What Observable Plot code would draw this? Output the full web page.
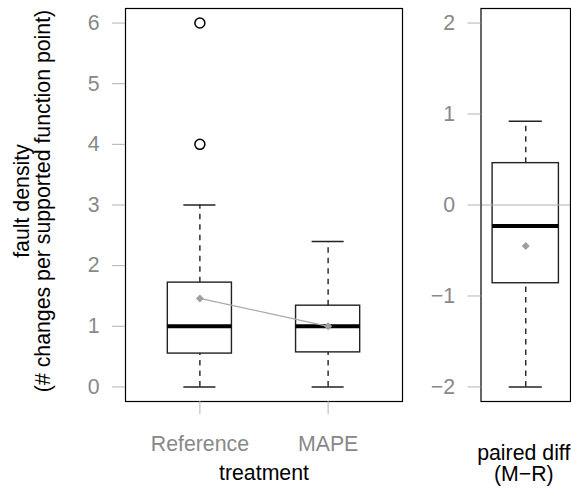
<!DOCTYPE html>
<html><head><meta charset="utf-8">
<script src="https://cdn.jsdelivr.net/npm/d3@7"></script>
<script src="https://cdn.jsdelivr.net/npm/@observablehq/plot@0.6"></script>
<style>
body{margin:0;background:#fff}
#chart{position:relative;width:571px;height:497px;background:#fff}
#chart svg{position:absolute;top:0}
</style>
</head><body><div id="chart"></div>
<script>
// ---- left panel data ----
const categories = ["Reference", "MAPE"];
const lowerWhisker = [0, 0];
const lowerQuartile = [0.55, 0.57];
const medianValue = [1.0, 1.0];
const upperQuartile = [1.72, 1.34];
const upperWhisker = [3.0, 2.4];
const meanValue = [1.46, 1.0];
const outlierCategory = ["Reference", "Reference"];
const outlierValue = [4, 6];
const leftTicks = [0, 1, 2, 3, 4, 5, 6];
const leftYTitle = "fault density\n(# changes per supported function point)";
const leftXTitle = "treatment";

// ---- right panel data ----
const diffCategories = ["paired diff\n(M−R)"];
const diffLowerWhisker = [-2.0];
const diffLowerQuartile = [-0.86];
const diffMedian = [-0.23];
const diffUpperQuartile = [0.46];
const diffUpperWhisker = [0.92];
const diffMean = [-0.45];
const rightTicks = [-2, -1, 0, 1, 2];

const FONT = "'Liberation Sans', Arial, Helvetica, sans-serif";
const TICK_GRAY = "#b3b3b3";
const LABEL_GRAY = "#888888";
const FS = 21.3;
const intFormat = d3.format("d");

function rowsOf(cats, lo, q1, med, q3, hi, mean) {
  return cats.map((c, i) => ({pos: i + 1, cat: c, lo: lo[i], q1: q1[i], med: med[i], q3: q3[i], hi: hi[i], mean: mean[i]}));
}

function boxMarks(rows, half, cap) {
  return [
    Plot.ruleX(rows, {x: "pos", y1: "q3", y2: "hi", stroke: "#222", strokeWidth: 1.4, strokeDasharray: "5.5,5"}),
    Plot.ruleX(rows, {x: "pos", y1: "lo", y2: "q1", stroke: "#222", strokeWidth: 1.4, strokeDasharray: "5.5,5"}),
    Plot.ruleY(rows, {y: "hi", x1: d => d.pos - cap, x2: d => d.pos + cap, stroke: "#222", strokeWidth: 1.5}),
    Plot.ruleY(rows, {y: "lo", x1: d => d.pos - cap, x2: d => d.pos + cap, stroke: "#222", strokeWidth: 1.5}),
    Plot.rect(rows, {x1: d => d.pos - half, x2: d => d.pos + half, y1: "q1", y2: "q3", fill: "none", stroke: "#222", strokeWidth: 1.4}),
    Plot.ruleY(rows, {y: "med", x1: d => d.pos - half, x2: d => d.pos + half, stroke: "#000", strokeWidth: 4})
  ];
}

const leftRows = rowsOf(categories, lowerWhisker, lowerQuartile, medianValue, upperQuartile, upperWhisker, meanValue);
const outliers = outlierValue.map((v, i) => ({pos: categories.indexOf(outlierCategory[i]) + 1, value: v}));

const left = Plot.plot({
  width: 410, height: 497,
  marginLeft: 125, marginRight: 8, marginTop: 8, marginBottom: 96,
  style: {fontFamily: FONT, fontSize: FS + "px", background: "transparent", overflow: "visible"},
  x: {type: "linear", domain: [0.42, 2.58], axis: null},
  y: {domain: [-0.24, 6.24], axis: null},
  marks: [
    ...boxMarks(leftRows, 0.25, 0.125),
    Plot.dot(outliers, {x: "pos", y: "value", r: 5, stroke: "#000", strokeWidth: 1.5, fill: "none"}),
    Plot.line(leftRows, {x: "pos", y: "mean", stroke: "#aaaaaa", strokeWidth: 1.3}),
    Plot.dot(leftRows, {x: "pos", y: "mean", symbol: "diamond2", r: 3.6, fill: "#a0a0a0", stroke: "none"}),
    Plot.frame({stroke: "#000", strokeWidth: 1.2}),
    Plot.axisY({ticks: leftTicks, tickFormat: intFormat, tickSize: 13, tickPadding: 13, fontSize: FS, stroke: TICK_GRAY, fill: LABEL_GRAY, label: null}),
    Plot.axisX({ticks: leftRows.map(d => d.pos), tickFormat: d => categories[d - 1], tickSize: 13, tickPadding: 21, fontSize: FS, stroke: TICK_GRAY, fill: LABEL_GRAY, label: null}),
    Plot.text([leftYTitle], {text: d => d, frameAnchor: "left", textAnchor: "middle", rotate: -90, dx: -93, dy: -4, fontSize: FS, lineHeight: 1, fill: "#000"}),
    Plot.text([leftXTitle], {text: d => d, frameAnchor: "bottom", textAnchor: "middle", lineAnchor: "bottom", dy: 78, fontSize: FS, fill: "#000"})
  ]
});

const rightRows = rowsOf(diffCategories, diffLowerWhisker, diffLowerQuartile, diffMedian, diffUpperQuartile, diffUpperWhisker, diffMean);

const right = Plot.plot({
  width: 161, height: 497,
  marginLeft: 70.5, marginRight: 1, marginTop: 8, marginBottom: 96,
  style: {fontFamily: FONT, fontSize: FS + "px", background: "transparent", overflow: "visible"},
  x: {type: "linear", domain: [0.46, 1.54], axis: null},
  y: {domain: [-2.16, 2.16], axis: null},
  marks: [
    ...boxMarks(rightRows, 0.4, 0.2),
    Plot.ruleY([0], {stroke: "#b0b0b0", strokeWidth: 1.2}),
    Plot.dot(rightRows, {x: "pos", y: "mean", symbol: "diamond2", r: 3.6, fill: "#a0a0a0", stroke: "none"}),
    Plot.frame({stroke: "#000", strokeWidth: 1.2}),
    Plot.axisY({ticks: rightTicks, tickFormat: intFormat, tickSize: 13, tickPadding: 13, fontSize: FS, stroke: TICK_GRAY, fill: LABEL_GRAY, label: null}),
    Plot.text(rightRows, {x: "pos", text: "cat", frameAnchor: "bottom", textAnchor: "middle", lineAnchor: "bottom", dy: 79, dx: -2, lineHeight: 0.97, fontSize: FS, fill: "#000"})
  ]
});

left.style.left = "0px";
right.style.left = "410px";
document.getElementById("chart").append(left, right);
</script>
</body></html>
